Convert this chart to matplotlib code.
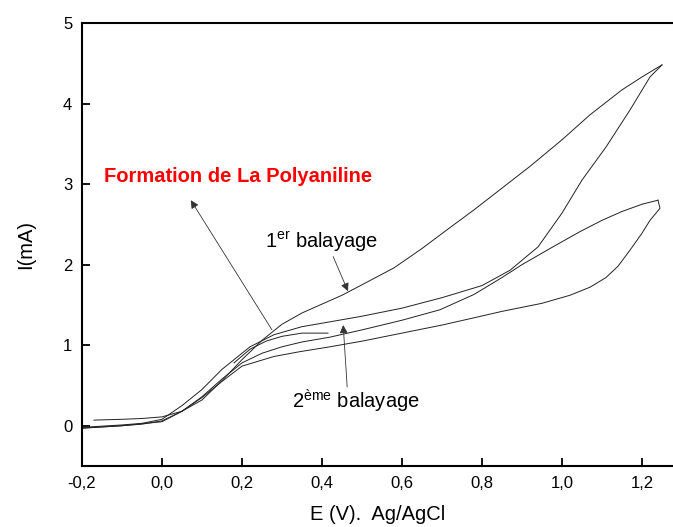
"""
Voltammogramme cyclique : formation de la polyaniline (1er et 2eme balayage).
"""

import matplotlib
matplotlib.use("Agg")
import matplotlib.pyplot as plt

plt.rcParams['font.family'] = ['Liberation Sans', 'DejaVu Sans']
plt.rcParams['mathtext.fontset'] = 'custom'
plt.rcParams['mathtext.rm'] = 'Liberation Sans'

#Data (E in V vs Ag/AgCl, I in mA)
e_cycle1_fwd = [-0.17, -0.1, -0.05, 0.0, 0.05, 0.1, 0.15, 0.2, 0.25, 0.3, 0.35, 0.4, 0.45,
                0.5, 0.58, 0.65, 0.72, 0.78, 0.85, 0.92, 1.0, 1.07, 1.15, 1.2, 1.25]
i_cycle1_fwd = [0.07, 0.08, 0.09, 0.11, 0.18, 0.32, 0.56, 0.82, 1.06, 1.26, 1.4, 1.51, 1.62,
                1.75, 1.96, 2.2, 2.46, 2.68, 2.95, 3.22, 3.55, 3.86, 4.17, 4.33, 4.48]

e_cycle1_rev = [1.25, 1.22, 1.17, 1.11, 1.05, 1.0, 0.94, 0.87, 0.8, 0.7, 0.6, 0.5, 0.42,
                0.35, 0.28, 0.22, 0.15, 0.1, 0.05, 0.0, -0.05, -0.1, -0.2]
i_cycle1_rev = [4.48, 4.33, 3.92, 3.46, 3.05, 2.64, 2.22, 1.93, 1.74, 1.59, 1.46, 1.36, 1.29,
                1.23, 1.13, 0.98, 0.7, 0.45, 0.25, 0.08, 0.03, 0.01, -0.02]

e_short = [0.18, 0.22, 0.26, 0.3, 0.35, 0.415]
i_short = [0.78, 0.95, 1.05, 1.11, 1.15, 1.15]

e_cycle2_fwd = [-0.2, -0.1, -0.05, 0.0, 0.05, 0.1, 0.15, 0.2, 0.25, 0.3, 0.35, 0.42, 0.5,
                0.6, 0.695, 0.78, 0.85, 0.9, 0.97, 1.045, 1.1, 1.15, 1.2, 1.24]
i_cycle2_fwd = [-0.03, 0.0, 0.02, 0.06, 0.18, 0.36, 0.58, 0.78, 0.9, 0.98, 1.04, 1.1, 1.19,
                1.31, 1.44, 1.63, 1.84, 2.0, 2.2, 2.41, 2.55, 2.66, 2.75, 2.8]

e_cycle2_rev = [1.24, 1.245, 1.22, 1.2, 1.17, 1.14, 1.11, 1.07, 1.02, 0.95, 0.85, 0.78, 0.7,
                0.6, 0.5, 0.42, 0.345, 0.28, 0.2, 0.15, 0.1, 0.05, 0.0, -0.1, -0.2]
i_cycle2_rev = [2.8, 2.7, 2.55, 2.39, 2.18, 1.98, 1.84, 1.72, 1.62, 1.52, 1.42, 1.34, 1.25,
                1.15, 1.05, 0.98, 0.92, 0.86, 0.74, 0.55, 0.35, 0.18, 0.05, 0.0, -0.03]

x_ticks = [-0.2, 0.0, 0.2, 0.4, 0.6, 0.8, 1.0, 1.2]
x_tick_labels = ["-0,2", "0,0", "0,2", "0,4", "0,6", "0,8", "1,0", "1,2"]
y_ticks = [0, 1, 2, 3, 4, 5]
y_tick_labels = ["0", "1", "2", "3", "4", "5"]

fig = plt.figure(figsize=(6.73, 5.27), dpi=100)
ax = fig.add_axes([0.1218, 0.1157, 0.8782, 0.8407])

for e, i in [(e_cycle1_fwd, i_cycle1_fwd), (e_cycle1_rev, i_cycle1_rev), (e_short, i_short),
             (e_cycle2_fwd, i_cycle2_fwd), (e_cycle2_rev, i_cycle2_rev)]:
    ax.plot(e, i, color='#222222', lw=0.7)

ax.set_xlim(-0.2, 1.2775)
ax.set_ylim(-0.5, 5)
ax.set_xticks(x_ticks)
ax.set_xticklabels(x_tick_labels)
ax.set_yticks(y_ticks)
ax.set_yticklabels(y_tick_labels)
ax.tick_params(direction='in', length=6, width=1.3, labelsize=12, pad=7,
               top=False, right=False)
for side in ['left', 'bottom', 'top']:
    ax.spines[side].set_linewidth(1.5)
ax.spines['right'].set_visible(False)

ax.set_xlabel("E (V).  Ag/AgCl", fontsize=14.5, labelpad=10)
ax.set_ylabel("I(mA)", fontsize=14.5, labelpad=20)

#Annotations
arrow = dict(arrowstyle='-|>', lw=0.6, color='#333333', mutation_scale=12, shrinkA=0, shrinkB=0)

ax.text(-0.145, 3.03, "Formation de La Polyaniline", color='red', fontsize=14.5,
        fontweight='bold', va='baseline', ha='left')
ax.annotate("", xy=(0.072, 2.8), xytext=(0.275, 1.19), arrowprops=arrow)

ax.text(0.2575, 2.21, r"1$^{\mathrm{er}}$ balayage", fontsize=14.5, va='baseline', ha='left')
ax.annotate("", xy=(0.465, 1.67), xytext=(0.428, 2.10), arrowprops=arrow)

ax.text(0.325, 0.22, "2$^{\\mathrm{ème}}$ balayage", fontsize=14.5, va='baseline', ha='left')
ax.annotate("", xy=(0.453, 1.25), xytext=(0.463, 0.48), arrowprops=arrow)

plt.savefig("out.png", dpi=100)
